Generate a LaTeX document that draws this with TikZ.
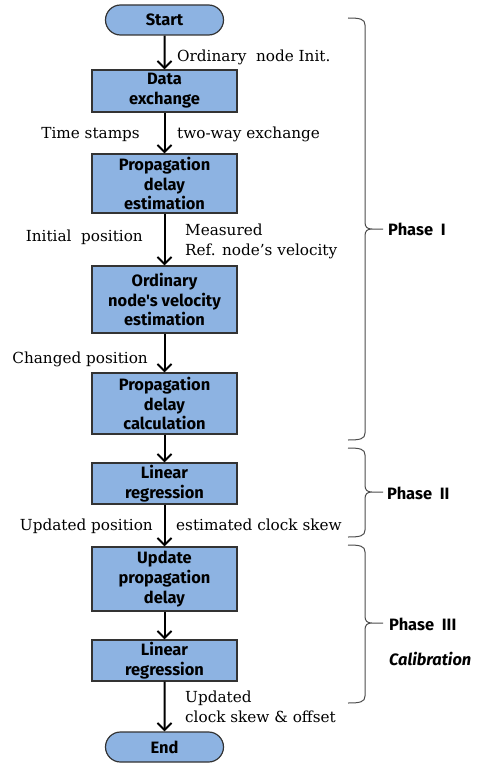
\documentclass[tikz,border=0pt]{standalone}
\usepackage{fontspec}
\setmainfont{DejaVu Serif}
\newfontfamily\boxfont{Fira Sans}
\usetikzlibrary{arrows.meta,shapes.misc}
\definecolor{boxblue}{RGB}{141,179,226}
\newcommand\phbrace[3]{%
  \draw[brace] (348,#1) .. controls (360,#1) and (365,{#1+1}) .. (365,{#1+7})
    -- (365,{#2-7}) .. controls (365,{#2-2}) and (367,#2) .. (372,#2) -- (383,#2)
    (372,#2) .. controls (367,#2) and (365,{#2+2}) .. (365,{#2+7})
    -- (365,{#3-7}) .. controls (365,{#3-1}) and (360,#3) .. (348,#3);}
\begin{document}
\begin{tikzpicture}[x=1bp,y=-1bp,
  proc/.style={draw=black!80, line width=1.2bp, fill=boxblue, minimum width=145bp,
    inner sep=0pt, align=center, font=\boxfont\bfseries\fontsize{16.5}{20}\selectfont},
  term/.style={proc, rounded rectangle, minimum width=118bp, minimum height=30bp},
  flow/.style={-{Straight Barb[length=7bp,width=14bp]}, line width=2bp},
  lab/.style={font=\fontsize{15.3}{18}\selectfont, inner sep=0pt},
  brace/.style={draw=black!70, line width=1bp},
  phase/.style={font=\boxfont\bfseries\fontsize{16.5}{18}\selectfont, inner sep=0pt, anchor=west}]
\useasboundingbox (0,0) rectangle (478,765);
% nodes
\node[term] (start) at (164.5,20) {Start};
\node[proc, minimum height=42bp] (data) at (164.5,91) {Data\\exchange};
\node[proc, minimum height=59bp] (ped) at (164.5,183.5) {Propagation\\delay\\estimation};
\node[proc, minimum height=67bp] (onve) at (164.5,299.5) {Ordinary\\node's velocity\\estimation};
\node[proc, minimum height=61bp] (pdc) at (164.5,403.5) {Propagation\\delay\\calculation};
\node[proc, minimum height=41bp] (lr1) at (164.5,483.5) {Linear\\regression};
\node[proc, minimum height=64bp] (upd) at (164.5,579) {Update\\propagation\\delay};
\node[proc, minimum height=41bp] (lr2) at (164.5,660.5) {Linear\\regression};
\node[term] (end) at (164.5,747) {End};
% connectors
\draw[flow] (start) -- (data);
\draw[flow] (data) -- (ped);
\draw[flow] (ped) -- (onve);
\draw[flow] (onve) -- (pdc);
\draw[flow] (pdc) -- (lr1);
\draw[flow] (lr1) -- (upd);
\draw[flow] (upd) -- (lr2);
\draw[flow] (lr2) -- (end);
% labels
\node[lab, anchor=base west] (l1) at (177,62) {Ordinary\ \ node Init.};
\node[lab, anchor=base east] (l2) at (140,138) {Time stamps};
\node[lab, anchor=base west] (l3) at (177,138) {two-way exchange};
\node[lab, anchor=base east] (l4) at (143,241) {Initial\ \ position};
\node[lab, anchor=base west] (l5) at (185,235) {Measured};
\node[lab, anchor=base west] (l6) at (185,255) {Ref. node's velocity};
\node[lab, anchor=base east] (l7) at (148,363) {Changed position};
\node[lab, anchor=base east] (l8) at (153,530) {Updated position};
\node[lab, anchor=base west] (l9) at (176,530) {estimated clock skew};
\node[lab, anchor=base west] (l10) at (185,702) {Updated};
\node[lab, anchor=base west] (l11) at (185,722) {clock skew \& offset};
% braces
\phbrace{18}{229}{440}
\phbrace{448}{492}{537}
\phbrace{545}{623}{703}
\node[phase] (p1) at (388,229) {Phase\ \ I};
\node[phase] (p2) at (387,493) {Phase\ \ II};
\node[phase] (p3) at (389,624) {Phase\ \ III};
\node[phase] (p4) at (389,659) {\itshape Calibration};
\end{tikzpicture}
\end{document}
